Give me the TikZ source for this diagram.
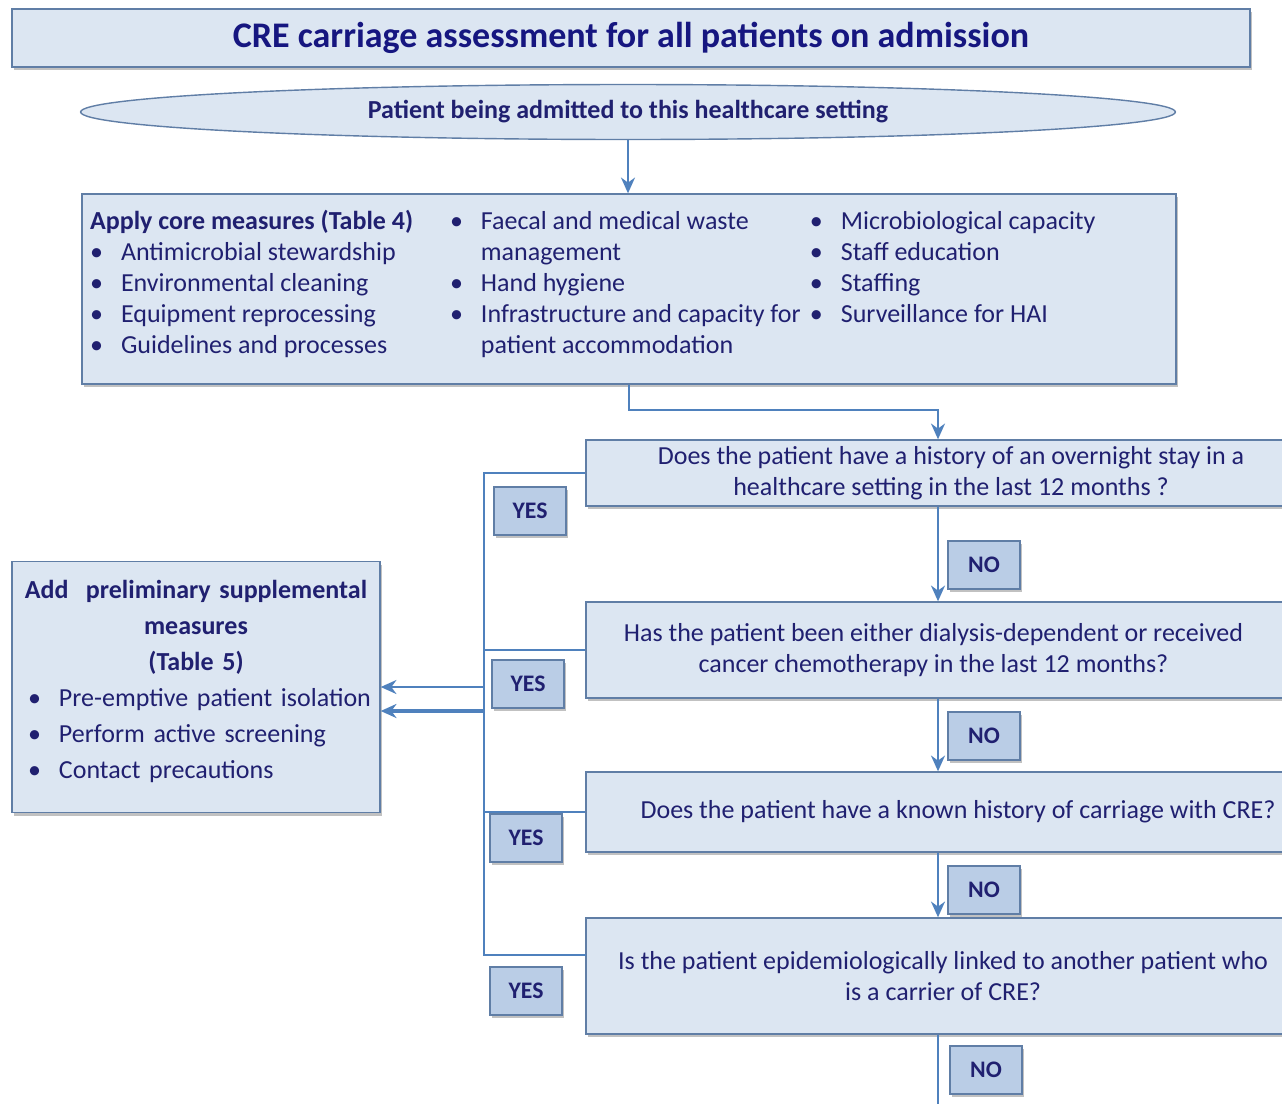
\documentclass[tikz,border=0pt]{standalone}
\usepackage{fontspec}
\setmainfont{Carlito}
\usetikzlibrary{shapes.geometric,shadows,arrows.meta}

\definecolor{navy}{RGB}{32,32,112}
\definecolor{titleblue}{RGB}{22,22,128}
\definecolor{boxfill}{RGB}{220,230,242}
\definecolor{tagfill}{RGB}{186,205,230}
\definecolor{boxline}{RGB}{96,126,166}
\definecolor{flowblue}{RGB}{79,129,189}

\setlength{\parindent}{0pt}
\def\bulsep{17.6pt}
\newcommand{\bul}{\makebox[\bulsep][l]{\textbullet}}
\newcommand{\ind}{\hspace*{\bulsep}}
\newcommand{\pad}[1]{\rule{#1}{0pt}}

\begin{document}
\begin{tikzpicture}[x=0.02cm,y=-0.02cm,font=\fontsize{14.8}{17.6}\selectfont,text=navy,>={Stealth[length=9pt,width=8pt]}]
    \tikzstyle{box}=[rectangle,draw=boxline,fill=boxfill,line width=0.8pt,inner sep=0pt,drop shadow={shadow xshift=1.2pt,shadow yshift=-1.8pt,opacity=0.35,fill=black!70}]
    \tikzstyle{question}=[box,minimum width=14.6cm,align=center]
    \tikzstyle{tag}=[box,fill=tagfill,minimum width=1.44cm,minimum height=0.96cm,font=\fontsize{13.5}{16}\selectfont\bfseries]
    \tikzstyle{flow}=[draw=flowblue,line width=1.1pt]

    \useasboundingbox (0,0) rectangle (1282,1103);

    \node[box,minimum width=24.76cm,minimum height=1.16cm,text=titleblue,font=\fontsize{20.5}{24}\selectfont\bfseries] (title) at (631,38) {CRE carriage assessment for all patients on admission};
    \node[ellipse,draw=boxline,fill=boxfill,line width=0.8pt,inner sep=0pt,minimum width=21.9cm,minimum height=1.1cm,font=\fontsize{14.8}{17}\selectfont\bfseries] (admit) at (628,112) {Patient being admitted to this healthcare setting};

    \node[box,minimum width=21.88cm,minimum height=3.8cm,align=left] (core) at (629,289) {%
        \begin{tabular}{@{}p{7.2cm}@{}p{7.2cm}@{}p{7.16cm}@{}}
        {\bfseries Apply core measures (Table 4)}\newline
        \bul Antimicrobial stewardship\newline
        \bul Environmental cleaning\newline
        \bul Equipment reprocessing\newline
        \bul Guidelines and processes
        &
        \bul Faecal and medical waste\newline
        \ind management\newline
        \bul Hand hygiene\newline
        \bul Infrastructure and capacity for\newline
        \ind patient accommodation
        &
        \bul Microbiological capacity\newline
        \bul Staff education\newline
        \bul Staffing\newline
        \bul Surveillance for HAI
        \end{tabular}\\[3.5pt]\mbox{}};

    \node[question,minimum height=1.32cm] (q1) at (951,473) {Does the patient have a history of an overnight stay in a\\healthcare setting in the last 12 months ?};
    \node[question,minimum height=1.92cm] (q2) at (951,650) {Has the patient been either dialysis-dependent or received\pad{20pt}\\cancer chemotherapy in the last 12 months?\pad{20pt}};
    \node[question,minimum height=1.6cm] (q3) at (951,812) {\pad{8pt}Does the patient have a known history of carriage with CRE?};
    \node[question,minimum height=2.32cm] (q4) at (951,976) {Is the patient epidemiologically linked to another patient who\pad{9pt}\\is a carrier of CRE?\pad{9pt}};

    \node[box,minimum width=7.36cm,minimum height=5.02cm,text width=7.0cm,align=left,font=\fontsize{14.8}{20.5}\selectfont] (supp) at (196,687) {%
        \makebox[7.0cm][c]{\bfseries Add~ preliminary supplemental}\\
        \makebox[7.0cm][c]{\bfseries measures}\\
        \makebox[7.0cm][c]{\bfseries (Table 5)}\\
        \hspace*{4pt}\bul Pre-emptive patient isolation\\
        \hspace*{4pt}\bul Perform active screening\\
        \hspace*{4pt}\bul Contact precautions\\[-12pt]\mbox{}};

    \coordinate (bus) at (484,0);
    \coordinate (turn) at (938,410);
    \coordinate (q4tap) at (586,955);
    \coordinate (nofoot) at (938,1110);
    \coordinate (s2) at ([yshift=-0.48cm]supp.east);

    \draw[flow,->] (admit.south) -- (admit.south |- core.north);
    \draw[flow,->] (core.south) |- (turn) -- (turn |- q1.north);
    \draw[flow,->] (q1.south -| turn) -- (q2.north -| turn);
    \draw[flow,->] (q2.south -| turn) -- (q3.north -| turn);
    \draw[flow,->] (q3.south -| turn) -- (q4.north -| turn);
    \draw[flow] (q4.south -| turn) -- (nofoot);

    \draw[flow] (q1.west) -- (q1.west -| bus) -- (q4tap -| bus) -- (q4tap);
    \draw[flow] (q2.west) -- (q2.west -| bus);
    \draw[flow] (q3.west) -- (q3.west -| bus);
    \draw[flow,->] (supp.east -| bus) -- (supp.east);
    \draw[flow,->,line width=1.8pt] (s2 -| bus) -- (s2);

    \node[tag] (yes1) at (530,511) {YES};
    \node[tag] (yes2) at (528,684) {YES};
    \node[tag] (yes3) at (526,838) {YES};
    \node[tag] (yes4) at (526,991) {YES};
    \node[tag] (no1) at (984,565) {NO};
    \node[tag] (no2) at (984,736) {NO};
    \node[tag] (no3) at (984,890) {NO};
    \node[tag] (no4) at (986,1070) {NO};
\end{tikzpicture}
\end{document}
